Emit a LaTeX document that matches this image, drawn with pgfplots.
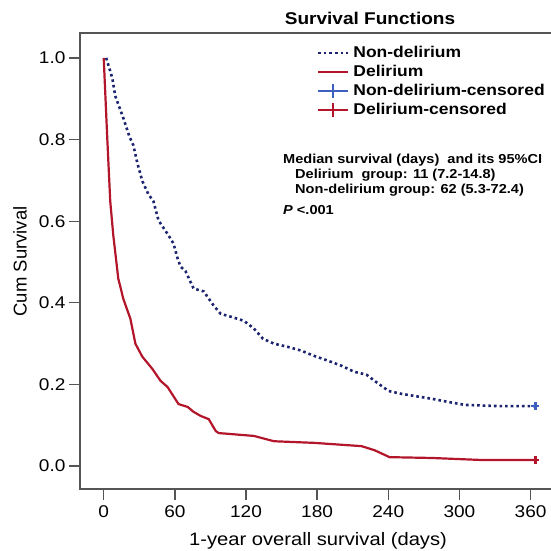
\documentclass[border=0pt]{standalone}
\usepackage{fontspec}
\setmainfont{Liberation Sans}[FakeStretch=1.12]
\newfontfamily\ylabfont{Liberation Sans}
\usepackage{pgfplots}
\pgfplotsset{compat=1.18}

\definecolor{navy}{HTML}{1C2470}
\definecolor{delred}{HTML}{B3152B}
\definecolor{censblue}{HTML}{3D5FC0}
\definecolor{axisgray}{HTML}{555555}

\pgfplotstableread{
day surv
2.1 1.000
7.2 0.951
9.7 0.907
16.5 0.853
21.6 0.808
25.0 0.786
28.4 0.742
32.6 0.698
37.7 0.666
41.9 0.649
46.2 0.602
54.7 0.565
58.9 0.545
62.3 0.509
64.8 0.489
69.1 0.477
75.0 0.440
75.8 0.435
84.3 0.428
92.8 0.393
98.7 0.373
107.2 0.366
118.2 0.356
126.7 0.337
134.3 0.312
143.6 0.300
155.5 0.292
166.5 0.283
177.5 0.270
189.4 0.258
200.4 0.246
211.4 0.231
221.6 0.224
228.4 0.209
240.3 0.184
251.3 0.177
276.7 0.165
291.1 0.157
304.7 0.150
333.5 0.147
364.0 0.147
}\nondelirium

\pgfplotstableread{
day surv
0.0 1.000
3.0 0.803
5.5 0.649
8.1 0.565
12.3 0.459
14.0 0.440
16.5 0.410
22.5 0.361
26.7 0.300
32.6 0.268
41.1 0.238
47.9 0.209
53.8 0.194
63.1 0.152
70.8 0.145
75.8 0.133
81.8 0.123
88.6 0.115
94.5 0.086
97.0 0.081
126.7 0.074
143.6 0.061
177.5 0.057
217.4 0.049
228.4 0.039
241.1 0.022
276.7 0.020
319.1 0.015
364.0 0.015
}\delirium

\begin{document}
\begin{tikzpicture}
\useasboundingbox (-80pt,-62pt) rectangle (470pt,489pt);
\begin{axis}[
    scale only axis,
    width=479pt, height=456pt,
    xmin=-20, xmax=384,
    ymin=-0.056, ymax=1.061,
    xtick={0,60,120,180,240,300,360},
    ytick={0,0.2,0.4,0.6,0.8,1.0},
    xtick pos=bottom, ytick pos=left,
    tick align=outside,
    major tick length=11pt,
    axis line style={axisgray, line width=1.3pt},
    every tick/.style={axisgray, line width=1.3pt},
    tick label style={font=\fontsize{17pt}{20pt}\selectfont},
    /pgf/number format/assume math mode=true,
    yticklabel style={/pgf/number format/.cd, fixed, fixed zerofill, precision=1},
    xticklabel style={yshift=-2pt},
    xlabel={1-year overall survival (days)},
    xlabel style={font=\fontsize{18pt}{21pt}\selectfont, at={(axis description cs:0.497,0)}, anchor=base, yshift=-56pt},
    ylabel={Cum Survival},
    ylabel style={font=\ylabfont\fontsize{18.5pt}{21pt}\selectfont, at={(axis description cs:-0.125,0.499)}, anchor=center},
    legend style={at={(axis description cs:0.494,0.974)}, anchor=north west,
        draw=none, fill=none, inner sep=0pt, column sep=4pt, row sep=3pt,
        font=\bfseries\fontsize{15.6pt}{18pt}\selectfont,
        nodes={inner sep=0pt, text height=12pt, text depth=4pt}},
    legend cell align=left,
    legend image code/.code={\draw[#1] (0pt,0pt) -- (30pt,0pt);},
]
\addplot[navy, line width=2.6pt, dash pattern=on 2.6pt off 3pt] table[x=day, y=surv] {\nondelirium};
\addlegendentry{Non-delirium}
\addplot[delred, line width=2.2pt] table[x=day, y=surv] {\delirium};
\addlegendentry{Delirium}
\addplot[censblue, only marks, mark=+, mark size=4pt, line width=2.6pt,
    legend image code/.code={\draw[censblue, line width=1.8pt] (0pt,0pt) -- (30pt,0pt);
        \draw[censblue, line width=1.8pt] (15pt,-7pt) -- (15pt,7pt);}]
    coordinates {(364,0.147)};
\addlegendentry{Non-delirium-censored}
\addplot[delred, only marks, mark=+, mark size=4pt, line width=2.6pt,
    legend image code/.code={\draw[delred, line width=1.8pt] (0pt,0pt) -- (30pt,0pt);
        \draw[delred, line width=1.8pt] (15pt,-7pt) -- (15pt,7pt);}]
    coordinates {(364,0.015)};
\addlegendentry{Delirium-censored}
\end{axis}
\node[anchor=base, font=\bfseries\fontsize{17pt}{20pt}\selectfont] at (290pt,464pt) {Survival Functions};
\begin{scope}[every node/.style={anchor=base west, inner sep=0pt, font=\bfseries\fontsize{13pt}{15pt}\selectfont}]
\node at (203pt,325.5pt) {Median survival (days)~ and its 95\%CI};
\node at (215pt,310.5pt) {Delirium~ group: 11 (7.2-14.8)};
\node at (215pt,295.5pt) {Non-delirium group: 62 (5.3-72.4)};
\node at (203pt,274.5pt) {\textit{P} <.001};
\end{scope}
\end{tikzpicture}
\end{document}
